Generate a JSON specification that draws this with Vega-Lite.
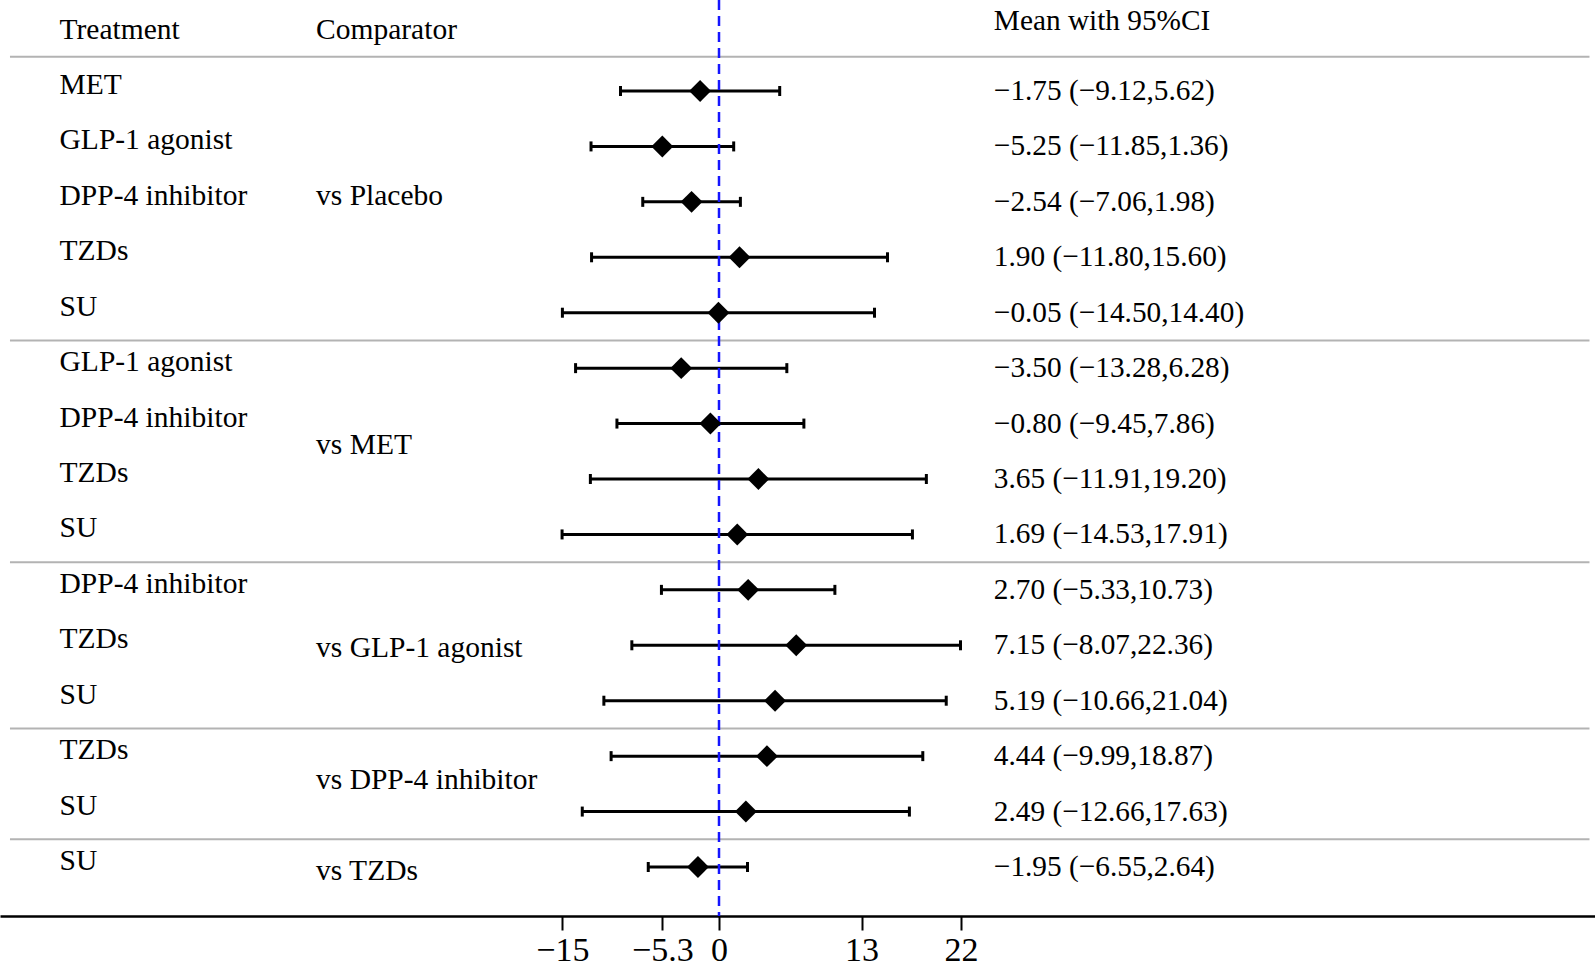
{
  "$schema": "https://vega.github.io/schema/vega-lite/v6.json",
  "width": 1595,
  "height": 916,
  "autosize": {"type": "none"},
  "padding": {"left": 0, "top": 0, "right": 0, "bottom": 50},
  "background": "white",
  "config": {"view": {"stroke": null}, "font": "Liberation Serif"},
  "datasets": {
    "rows": [
      {"row": 1, "treatment": "MET", "mean": -1.75, "lo": -9.12, "hi": 5.62, "label": "−1.75 (−9.12,5.62)"},
      {"row": 2, "treatment": "GLP-1 agonist", "mean": -5.25, "lo": -11.85, "hi": 1.36, "label": "−5.25 (−11.85,1.36)"},
      {"row": 3, "treatment": "DPP-4 inhibitor", "mean": -2.54, "lo": -7.06, "hi": 1.98, "label": "−2.54 (−7.06,1.98)"},
      {"row": 4, "treatment": "TZDs", "mean": 1.90, "lo": -11.80, "hi": 15.60, "label": "1.90 (−11.80,15.60)"},
      {"row": 5, "treatment": "SU", "mean": -0.05, "lo": -14.50, "hi": 14.40, "label": "−0.05 (−14.50,14.40)"},
      {"row": 6, "treatment": "GLP-1 agonist", "mean": -3.50, "lo": -13.28, "hi": 6.28, "label": "−3.50 (−13.28,6.28)"},
      {"row": 7, "treatment": "DPP-4 inhibitor", "mean": -0.80, "lo": -9.45, "hi": 7.86, "label": "−0.80 (−9.45,7.86)"},
      {"row": 8, "treatment": "TZDs", "mean": 3.65, "lo": -11.91, "hi": 19.20, "label": "3.65 (−11.91,19.20)"},
      {"row": 9, "treatment": "SU", "mean": 1.69, "lo": -14.53, "hi": 17.91, "label": "1.69 (−14.53,17.91)"},
      {"row": 10, "treatment": "DPP-4 inhibitor", "mean": 2.70, "lo": -5.33, "hi": 10.73, "label": "2.70 (−5.33,10.73)"},
      {"row": 11, "treatment": "TZDs", "mean": 7.15, "lo": -8.07, "hi": 22.36, "label": "7.15 (−8.07,22.36)"},
      {"row": 12, "treatment": "SU", "mean": 5.19, "lo": -10.66, "hi": 21.04, "label": "5.19 (−10.66,21.04)"},
      {"row": 13, "treatment": "TZDs", "mean": 4.44, "lo": -9.99, "hi": 18.87, "label": "4.44 (−9.99,18.87)"},
      {"row": 14, "treatment": "SU", "mean": 2.49, "lo": -12.66, "hi": 17.63, "label": "2.49 (−12.66,17.63)"},
      {"row": 15, "treatment": "SU", "mean": -1.95, "lo": -6.55, "hi": 2.64, "label": "−1.95 (−6.55,2.64)"}
    ],
    "comparators": [
      {"pos": 3.0, "comparator": "vs Placebo"},
      {"pos": 7.49, "comparator": "vs MET"},
      {"pos": 11.16, "comparator": "vs GLP-1 agonist"},
      {"pos": 13.53, "comparator": "vs DPP-4 inhibitor"},
      {"pos": 15.18, "comparator": "vs TZDs"}
    ],
    "headers": [
      {"col": "treatment", "pos": 0.06, "text": "Treatment"},
      {"col": "comparator", "pos": 0.06, "text": "Comparator"},
      {"col": "value", "pos": -0.1, "text": "Mean with 95%CI"}
    ],
    "separators": [
      {"pos": 0.38},
      {"pos": 5.5},
      {"pos": 9.5},
      {"pos": 12.5},
      {"pos": 14.5}
    ],
    "reference": [{"x": 0}]
  },
  "layer": [
    {
      "data": {"name": "separators"},
      "mark": {"type": "rule", "color": "#b3b3b3", "strokeWidth": 2},
      "encoding": {
        "x": {"datum": -65.65, "type": "quantitative", "scale": {"domain": [-66.574, 81.111], "nice": false, "zero": false},
              "axis": {"values": [-14.5, -5.25, 0, 13.2, 22.4],
                       "labelExpr": "datum.value == -14.5 ? '−15' : datum.value == -5.25 ? '−5.3' : datum.value == 0 ? '0' : datum.value == 13.2 ? '13' : '22'",
                       "title": null, "grid": false, "domain": true, "domainColor": "#000000", "domainWidth": 2.5,
                       "ticks": true, "tickColor": "#000000", "tickWidth": 2, "tickSize": 14,
                       "labelFont": "Liberation Serif", "labelFontSize": 34, "labelColor": "#000000",
                       "labelPadding": 3, "labelFlush": false, "labelOverlap": false}},
        "x2": {"datum": 80.6},
        "y": {"field": "pos", "type": "quantitative", "scale": {"domain": [-0.6417, 15.884], "reverse": true, "nice": false, "zero": false}, "axis": null}
      }
    },
    {
      "data": {"name": "rows"},
      "mark": {"type": "rule", "color": "#000000", "strokeWidth": 3},
      "encoding": {
        "x": {"field": "lo", "type": "quantitative", "title": null},
        "x2": {"field": "hi"},
        "y": {"field": "row", "type": "quantitative", "axis": null}
      }
    },
    {
      "data": {"name": "rows"},
      "mark": {"type": "tick", "orient": "vertical", "color": "#000000", "size": 10, "thickness": 3, "opacity": 1},
      "encoding": {
        "x": {"field": "lo", "type": "quantitative", "title": null},
        "y": {"field": "row", "type": "quantitative", "axis": null}
      }
    },
    {
      "data": {"name": "rows"},
      "mark": {"type": "tick", "orient": "vertical", "color": "#000000", "size": 10, "thickness": 3, "opacity": 1},
      "encoding": {
        "x": {"field": "hi", "type": "quantitative", "title": null},
        "y": {"field": "row", "type": "quantitative", "axis": null}
      }
    },
    {
      "data": {"name": "reference"},
      "mark": {"type": "rule", "color": "#1515ff", "strokeWidth": 2.5, "strokeDash": [10, 6]},
      "encoding": {
        "x": {"field": "x", "type": "quantitative", "title": null}
      }
    },
    {
      "data": {"name": "rows"},
      "mark": {"type": "point", "shape": "diamond", "filled": true, "color": "#000000", "opacity": 1, "size": 480},
      "encoding": {
        "x": {"field": "mean", "type": "quantitative", "title": null},
        "y": {"field": "row", "type": "quantitative", "axis": null}
      }
    },
    {
      "data": {"name": "rows"},
      "mark": {"type": "text", "align": "left", "baseline": "alphabetic", "dy": 3, "fontSize": 29.5, "font": "Liberation Serif", "color": "#000000"},
      "encoding": {
        "x": {"datum": -61.06, "type": "quantitative", "title": null},
        "y": {"field": "row", "type": "quantitative", "axis": null},
        "text": {"field": "treatment"}
      }
    },
    {
      "data": {"name": "rows"},
      "mark": {"type": "text", "align": "left", "baseline": "alphabetic", "dy": 9, "fontSize": 29.3, "font": "Liberation Serif", "color": "#000000"},
      "encoding": {
        "x": {"datum": 25.45, "type": "quantitative", "title": null},
        "y": {"field": "row", "type": "quantitative", "axis": null},
        "text": {"field": "label"}
      }
    },
    {
      "data": {"name": "comparators"},
      "mark": {"type": "text", "align": "left", "baseline": "alphabetic", "dy": 3, "fontSize": 29.5, "font": "Liberation Serif", "color": "#000000"},
      "encoding": {
        "x": {"datum": -37.31, "type": "quantitative", "title": null},
        "y": {"field": "pos", "type": "quantitative", "axis": null},
        "text": {"field": "comparator"}
      }
    },
    {
      "data": {"name": "headers"},
      "transform": [{"filter": "datum.col == 'treatment'"}],
      "mark": {"type": "text", "align": "left", "baseline": "alphabetic", "fontSize": 29.5, "font": "Liberation Serif", "color": "#000000"},
      "encoding": {
        "x": {"datum": -61.06, "type": "quantitative", "title": null},
        "y": {"field": "pos", "type": "quantitative", "axis": null},
        "text": {"field": "text"}
      }
    },
    {
      "data": {"name": "headers"},
      "transform": [{"filter": "datum.col == 'comparator'"}],
      "mark": {"type": "text", "align": "left", "baseline": "alphabetic", "fontSize": 29.5, "font": "Liberation Serif", "color": "#000000"},
      "encoding": {
        "x": {"datum": -37.31, "type": "quantitative", "title": null},
        "y": {"field": "pos", "type": "quantitative", "axis": null},
        "text": {"field": "text"}
      }
    },
    {
      "data": {"name": "headers"},
      "transform": [{"filter": "datum.col == 'value'"}],
      "mark": {"type": "text", "align": "left", "baseline": "alphabetic", "fontSize": 29.3, "font": "Liberation Serif", "color": "#000000"},
      "encoding": {
        "x": {"datum": 25.45, "type": "quantitative", "title": null},
        "y": {"field": "pos", "type": "quantitative", "axis": null},
        "text": {"field": "text"}
      }
    }
  ]
}
